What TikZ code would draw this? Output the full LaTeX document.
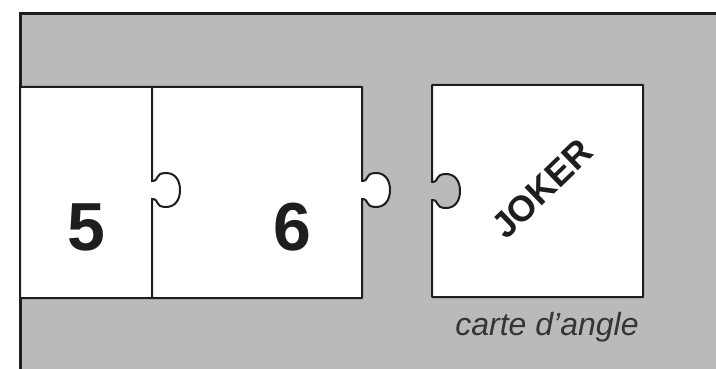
\documentclass[tikz,border=0pt]{standalone}
\usepackage{fontspec}
\setmainfont{Liberation Sans}
\definecolor{bggray}{RGB}{186,186,184}
\definecolor{ink}{RGB}{30,30,30}
\tikzset{
  piece/.style={draw=ink, line width=2pt, fill=white, line join=round},
  frame/.style={draw=ink, line width=3pt, fill=bggray},
  digit/.style={font=\bfseries\fontsize{68}{68}\selectfont, text=ink, inner sep=0pt},
  jokertxt/.style={font=\bfseries\fontsize{36}{36}\selectfont, text=ink, inner sep=0pt, rotate=44},
  caption/.style={font=\itshape\fontsize{32}{32}\selectfont, text=ink!90, inner sep=0pt},
}
% knob going down along a vertical line at x=#1, centre y=#2, bulging right
\newcommand{\knobpath}[2]{%
  -- (#1,#2-9) .. controls (#1+8,#2-9) and (#1+2,#2-17) .. (#1+14,#2-17)
  .. controls (#1+23,#2-17) and (#1+28,#2-10) .. (#1+28,#2)
  .. controls (#1+28,#2+10) and (#1+23,#2+17) .. (#1+14,#2+17)
  .. controls (#1+2,#2+17) and (#1+8,#2+9) .. (#1,#2+9)}
\begin{document}
\begin{tikzpicture}[x=1pt,y=-1pt]
\useasboundingbox (0,0) rectangle (716,369);
\fill[white] (0,0) rectangle (716,369);
\begin{scope}
\clip (0,0) rectangle (716,369);
\path[frame] (20,14) rectangle (740,400);
% pieces 5 and 6
\path[piece] (20,87) -- (362,87) \knobpath{362}{190} -- (362,298) -- (20,298) -- cycle;
\draw[draw=ink, line width=2pt] (152,87) \knobpath{152}{190} -- (152,298);
% joker piece with notch
\path[piece] (432,85) -- (643,85) -- (643,297) -- (432,297) -- (432,{191+9})
  .. controls (440,{191+9}) and (434,{191+17}) .. (446,{191+17})
  .. controls (455,{191+17}) and (460,{191+10}) .. (460,191)
  .. controls (460,{191-10}) and (455,{191-17}) .. (446,{191-17})
  .. controls (434,{191-17}) and (440,{191-9}) .. (432,{191-9}) -- cycle;
\end{scope}
\node[digit] (five) at (86,227.5) {5};
\node[digit] (six) at (292,227.5) {6};
\node[jokertxt] (joker) at (542,189) {JOKER};
\node[caption, anchor=base] (cap) at (547,335) {carte d'angle};
\end{tikzpicture}
\end{document}
